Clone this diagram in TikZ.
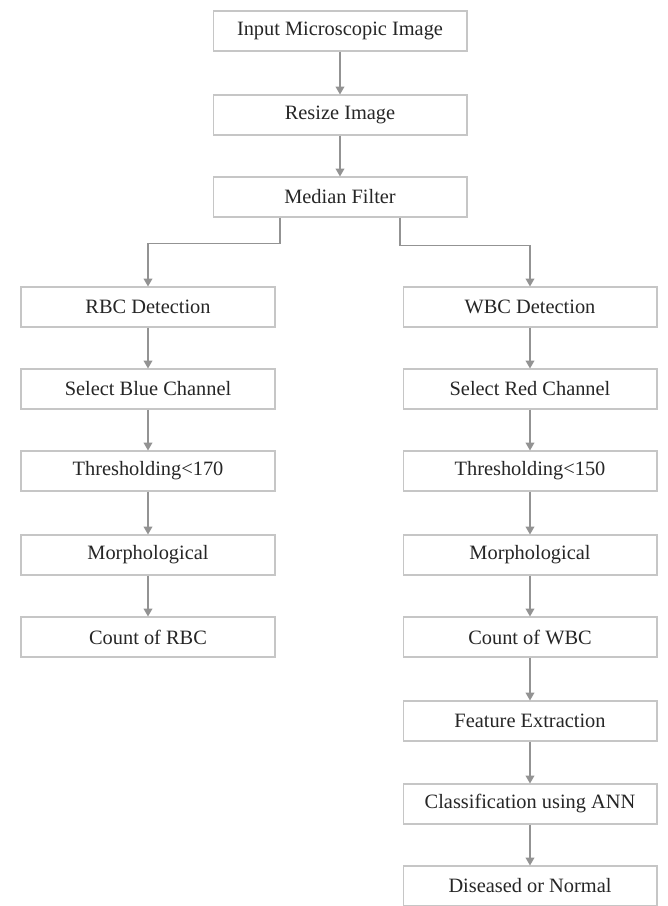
\documentclass[tikz,border=0pt]{standalone}
\usepackage{fontspec}
\setmainfont{Liberation Serif}
\usepackage{xcolor}
\usepackage{tikz}
\usetikzlibrary{arrows.meta,positioning,shadows}

\begin{document}
\begin{tikzpicture}[x=0.02cm,y=-0.02cm]

\tikzset{stage/.style = {shape=rectangle,draw=gray!45,fill=white,line width=0.6pt,
  minimum width=5.08cm,minimum height=0.8cm,font=\fontsize{11.6}{13}\selectfont,
  text=black!85,drop shadow={shadow xshift=0.5pt,shadow yshift=-0.8pt,opacity=0.45}}}
\tikzset{edge/.style = {draw=gray!85,line width=0.7pt,-{Triangle[width=5pt,length=4.5pt]}}}

\useasboundingbox (0,0) rectangle (668,906);

% main line
\node[stage] (input)  at (340,31)  {Input Microscopic Image};
\node[stage] (resize) at (340,115) {Resize Image};
\node[stage] (median) at (340,197) {Median Filter};

% RBC branch
\node[stage] (rbc)    at (148,307) {RBC Detection};
\node[stage] (blue)   at (148,389) {Select Blue Channel};
\node[stage] (thrl)   at (148,471) {Thresholding\textless170};
\node[stage] (morl)   at (148,555) {Morphological};
\node[stage] (cntrbc) at (148,637) {Count of RBC};

% WBC branch
\node[stage] (wbc)    at (530,307) {WBC Detection};
\node[stage] (red)    at (530,389) {Select Red Channel};
\node[stage] (thrr)   at (530,471) {Thresholding\textless150};
\node[stage] (morr)   at (530,555) {Morphological};
\node[stage] (cntwbc) at (530,637) {Count of WBC};
\node[stage] (feat)   at (530,721) {Feature Extraction};
\node[stage] (ann)    at (530,804) {Classification using ANN};
\node[stage] (out)    at (530,886) {Diseased or Normal};

%edges
\draw[edge] (input) to (resize);
\draw[edge] (resize) to (median);
\draw[edge] ([xshift=-1.2cm]median.south) -- ++(0,26) -| (rbc.north);
\draw[edge] ([xshift=1.2cm]median.south) -- ++(0,28) -| (wbc.north);
\draw[edge] (rbc) to (blue);
\draw[edge] (blue) to (thrl);
\draw[edge] (thrl) to (morl);
\draw[edge] (morl) to (cntrbc);
\draw[edge] (wbc) to (red);
\draw[edge] (red) to (thrr);
\draw[edge] (thrr) to (morr);
\draw[edge] (morr) to (cntwbc);
\draw[edge] (cntwbc) to (feat);
\draw[edge] (feat) to (ann);
\draw[edge] (ann) to (out);
\end{tikzpicture}
\end{document}
